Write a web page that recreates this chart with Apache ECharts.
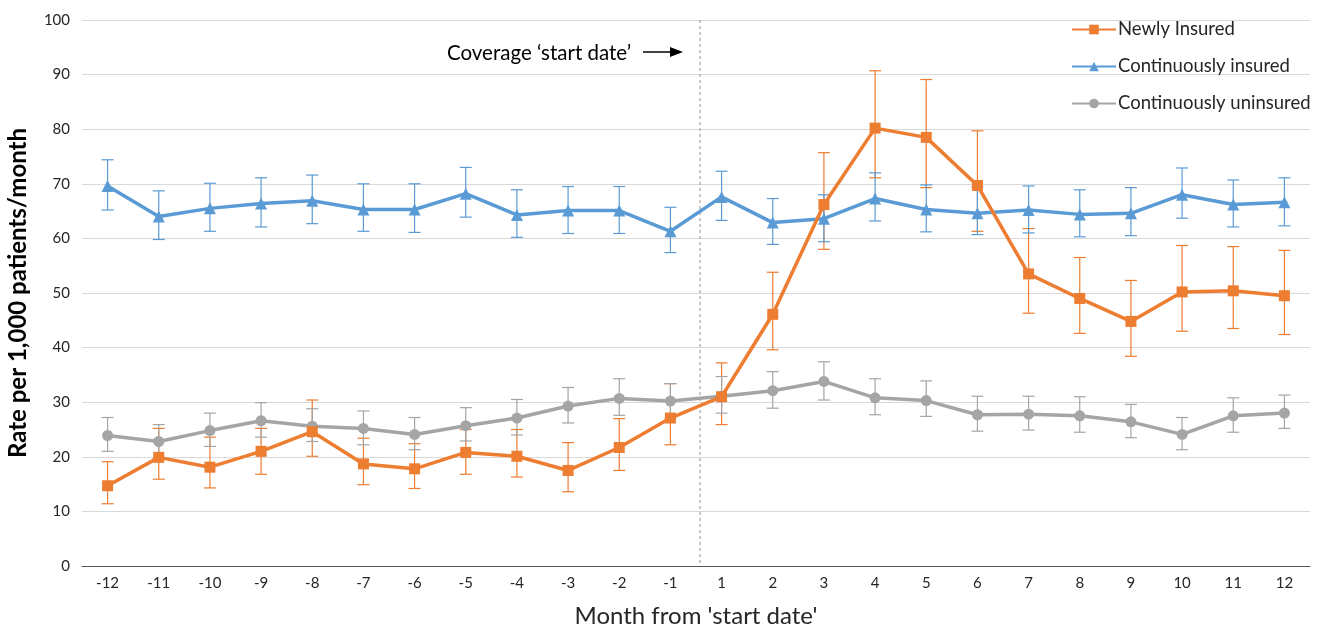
<!DOCTYPE html>
<html><head><meta charset="utf-8">
<script src="https://cdn.jsdelivr.net/npm/echarts@6/dist/echarts.min.js"></script>
<style>html,body{margin:0;padding:0;background:#fff}#c{width:1324px;height:628px}</style>
</head><body><div id="c"></div>
<script>
const months = ['-12','-11','-10','-9','-8','-7','-6','-5','-4','-3','-2','-1','1','2','3','4','5','6','7','8','9','10','11','12'];
const yTicks = [0,10,20,30,40,50,60,70,80,90,100];

const newlyInsured = [14.7,19.9,18.1,21.0,24.6,18.7,17.8,20.8,20.1,17.5,21.7,27.1,31.0,46.1,66.2,80.2,78.5,69.7,53.5,49.0,44.8,50.2,50.4,49.5];
const newlyLow     = [11.4,15.9,14.3,16.8,20.1,14.9,14.2,16.8,16.3,13.6,17.5,22.2,25.9,39.6,58.0,71.1,69.3,61.3,46.3,42.6,38.4,43.0,43.5,42.4];
const newlyHigh    = [19.1,25.2,23.6,25.2,30.4,23.4,22.4,25.0,25.0,22.6,27.0,33.4,37.2,53.8,75.7,90.7,89.1,79.7,61.8,56.5,52.3,58.7,58.5,57.8];

const contInsured  = [69.6,64.0,65.5,66.4,66.9,65.3,65.3,68.2,64.3,65.1,65.1,61.3,67.6,62.9,63.6,67.3,65.3,64.6,65.2,64.4,64.6,68.0,66.2,66.6];
const contInsLow   = [65.2,59.8,61.3,62.1,62.7,61.3,61.1,63.9,60.2,60.9,60.9,57.4,63.3,58.9,59.4,63.2,61.2,60.7,61.0,60.3,60.5,63.7,62.1,62.3];
const contInsHigh  = [74.4,68.7,70.1,71.1,71.6,70.0,70.0,73.0,68.9,69.5,69.5,65.7,72.3,67.3,68.0,72.0,69.8,69.4,69.6,68.9,69.3,72.9,70.7,71.1];

const contUninsured = [23.9,22.8,24.8,26.6,25.6,25.2,24.1,25.7,27.1,29.3,30.7,30.2,31.1,32.1,33.8,30.8,30.3,27.7,27.8,27.5,26.4,24.1,27.5,28.0];
const contUnLow     = [21.0,19.7,21.9,23.6,22.8,22.2,21.3,22.9,24.0,26.2,27.6,27.1,28.0,28.9,30.4,27.7,27.4,24.7,24.9,24.5,23.5,21.3,24.5,25.2];
const contUnHigh    = [27.2,25.9,28.0,29.9,28.8,28.4,27.2,29.0,30.5,32.7,34.3,33.4,34.7,35.6,37.4,34.3,33.9,31.1,31.1,31.0,29.6,27.2,30.8,31.3];

const seriesNames = ['Newly Insured','Continuously insured','Continuously uninsured'];
const colors = ['#ED7D31','#5B9BD5','#A5A5A5'];
const FONT = 'Lato, "Open Sans", sans-serif';

function errData(low, high){ return low.map((l,i)=>[i,l,high[i]]); }
function errSeries(name, color, low, high){
  return {
    type:'custom', name:name, z:1, silent:true,
    data: errData(low, high),
    encode:{x:0,y:[1,2]},
    renderItem: function(params, api){
      const x = api.value(0);
      const p1 = api.coord([x, api.value(1)]);
      const p2 = api.coord([x, api.value(2)]);
      const hw = 6;
      const st = {stroke:color, lineWidth:1.2};
      return {type:'group', children:[
        {type:'line', shape:{x1:p1[0],y1:p1[1],x2:p2[0],y2:p2[1]}, style:st},
        {type:'line', shape:{x1:p1[0]-hw,y1:p1[1],x2:p1[0]+hw,y2:p1[1]}, style:st},
        {type:'line', shape:{x1:p2[0]-hw,y1:p2[1],x2:p2[0]+hw,y2:p2[1]}, style:st}
      ]};
    }
  };
}

const chart = echarts.init(document.getElementById('c'));
chart.setOption({
  animation:false,
  backgroundColor:'#fff',
  grid:{left:82, right:14, top:20, bottom:62, outerBoundsMode:'none', containLabel:false},
  legend:{
    orient:'vertical', left:1066, top:15, itemGap:18, itemWidth:44, itemHeight:12,
    textStyle:{fontFamily:FONT, fontSize:18.5, color:'#262626', padding:[0,0,0,-3]},
    data: seriesNames
  },
  xAxis:{
    type:'category', data:months, boundaryGap:true,
    axisLine:{lineStyle:{color:'#595959', width:1.2}},
    axisTick:{show:false},
    axisLabel:{fontFamily:FONT, fontSize:15, color:'#262626', margin:10},
    name:"Month from 'start date'", nameLocation:'middle', nameGap:38,
    nameTextStyle:{fontFamily:FONT, fontSize:24, color:'#262626'}
  },
  yAxis:{
    type:'value', min:yTicks[0], max:yTicks[yTicks.length-1], interval:10,
    axisLine:{show:false}, axisTick:{show:false},
    splitLine:{lineStyle:{color:'#D9D9D9', width:1}},
    axisLabel:{fontFamily:FONT, fontSize:15, color:'#262626', margin:12},
    name:'Rate per 1,000 patients/month', nameLocation:'middle', nameGap:52,
    nameTextStyle:{fontFamily:FONT, fontSize:24, fontWeight:'bold', color:'#000'}
  },
  series:[
    errSeries('errN', colors[0], newlyLow, newlyHigh),
    errSeries('errC', colors[1], contInsLow, contInsHigh),
    errSeries('errU', colors[2], contUnLow, contUnHigh),
    {
      type:'custom', name:'startLine', silent:true, z:0,
      data:[[11.58]],
      renderItem:function(params, api){
        const a = api.coord([11, 0]);
        const b = api.coord([12, 100]);
        const f = api.value(0) - 11;
        const x = a[0] + (b[0]-a[0]) * f;
        return {type:'line', shape:{x1:x, y1:b[1], x2:x, y2:a[1]},
          style:{stroke:'#A6A6A6', lineWidth:1.2, lineDash:[3,3]}};
      }
    },
    {
      name:seriesNames[0], type:'line', data:newlyInsured, z:5,
      symbol:'rect', symbolSize:11, color:colors[0],
      lineStyle:{width:3.5, color:colors[0]}, itemStyle:{color:colors[0]}
    },
    {
      name:seriesNames[1], type:'line', data:contInsured, z:4,
      symbol:'triangle', symbolSize:12, color:colors[1],
      lineStyle:{width:3.5, color:colors[1]}, itemStyle:{color:colors[1]}
    },
    {
      name:seriesNames[2], type:'line', data:contUninsured, z:3,
      symbol:'circle', symbolSize:11, color:colors[2],
      lineStyle:{width:3.5, color:colors[2]}, itemStyle:{color:colors[2]}
    }
  ],
  graphic:[
    {type:'text', left:447, top:43, style:{text:'Coverage \u2018start date\u2019', font:'20.5px '+FONT, fill:'#000'}},
    {type:'line', shape:{x1:643, y1:52, x2:672, y2:52}, style:{stroke:'#000', lineWidth:1.5}},
    {type:'polygon', shape:{points:[[670,47],[683,52],[670,57]]}, style:{fill:'#000'}}
  ]
});
</script></body></html>
